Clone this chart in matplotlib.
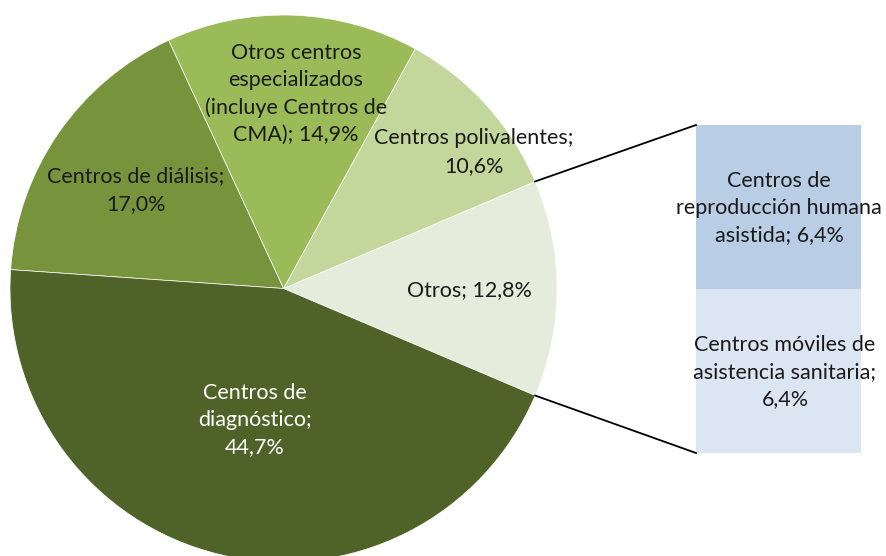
import matplotlib.pyplot as plt
import numpy as np

# datos del gráfico principal (porcentaje)
pie_labels = ['Otros', 'Centros polivalentes',
              'Otros centros\nespecializados\n(incluye Centros de\nCMA)',
              'Centros de diálisis', 'Centros de\ndiagnóstico']
pie_values = [12.8, 10.6, 14.9, 17.0, 44.7]
pie_colors = ['#e6ecdc', '#c3d69b', '#9bbb59', '#77933c', '#4f6228']

# desglose de "Otros"
bar_labels = ['Centros de\nreproducción humana\nasistida',
              'Centros móviles de\nasistencia sanitaria']
bar_values = [6.4, 6.4]
bar_colors = ['#b9cde5', '#dce6f2']

W, H = 887, 556
fig = plt.figure(figsize=(W / 100, H / 100), dpi=100)
ax = fig.add_axes([0, 0, 1, 1])
plt.rcParams['font.family'] = ['Lato', 'DejaVu Sans']
FS = 15.5
LS = 1.45

cx, cy, r = 283.5, H - 288.5, 273.5
start = -pie_values[0] / 100 * 360 / 2
ax.pie(pie_values, colors=pie_colors, startangle=start, counterclock=True,
       center=(cx, cy), radius=r, frame=True,
       wedgeprops=dict(edgecolor='white', linewidth=0.5))


def fmt(v):
    return ('%.1f%%' % v).replace('.', ',')


# posiciones de las etiquetas (px)
pie_text_pos = [(469, 290), (474, 152), (296, 94), (136, 190), (255, 420)]
pie_sep = [' ', '\n', ' ', '\n', '\n']
for i, (lab, v) in enumerate(zip(pie_labels, pie_values)):
    x, y = pie_text_pos[i]
    txt = lab + ';' + pie_sep[i] + fmt(v)
    col = 'white' if i == 4 else '#1a1a1a'
    ax.text(x, H - y, txt, ha='center', va='center', fontsize=FS,
            color=col, linespacing=LS)

# barra apilada
bx0, bw = 696, 165
btop, bbot = H - 125, H - 453
scale = (btop - bbot) / sum(bar_values)
bottom = btop
for lab, v, c in zip(bar_labels, bar_values, bar_colors):
    h = v * scale
    bottom -= h
    ax.bar(bx0 + bw / 2, h, width=bw, bottom=bottom, color=c, edgecolor='none')

ax.text(779, H - 208, bar_labels[0] + '; ' + fmt(bar_values[0]),
        ha='center', va='center', fontsize=FS, color='#1a1a1a', linespacing=LS)
ax.text(785, H - 372, bar_labels[1] + ';\n' + fmt(bar_values[1]),
        ha='center', va='center', fontsize=FS, color='#1a1a1a', linespacing=LS)

# líneas de conexión
a = np.deg2rad(start)
ax.plot([cx + r * np.cos(-a), bx0], [cy + r * np.sin(-a), btop], color='black', lw=1.3)
ax.plot([cx + r * np.cos(a), bx0], [cy + r * np.sin(a), bbot], color='black', lw=1.3)

ax.set_xlim(0, W)
ax.set_ylim(0, H)
ax.set_aspect('equal')
ax.axis('off')
fig.savefig('out.png', dpi=100)
